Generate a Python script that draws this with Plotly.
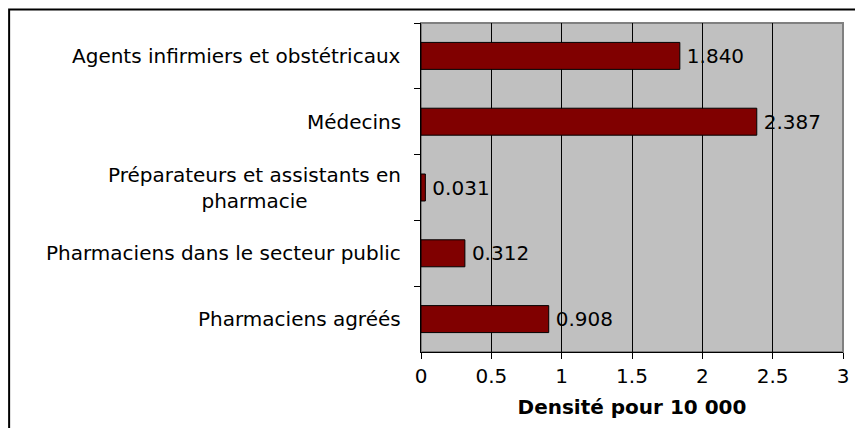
import plotly.graph_objects as go

categories = [
    "Agents infirmiers et obstétricaux",
    "Médecins",
    "Préparateurs et assistants en<br>pharmacie",
    "Pharmaciens dans le secteur public",
    "Pharmaciens agréés",
]
values = [1.840, 2.387, 0.031, 0.312, 0.908]
x_tick_vals = [0, 0.5, 1, 1.5, 2, 2.5, 3]
x_tick_text = ["0", "0.5", "1", "1.5", "2", "2.5", "3"]
x_title = "Densité pour 10 000"

FONT = "DejaVu Sans"

fig = go.Figure()
fig.add_trace(go.Bar(
    x=values,
    y=categories,
    orientation="h",
    marker=dict(color="#800000", line=dict(color="#000000", width=1)),
    text=["\u2009" + f"{v:.3f}" for v in values],
    textposition="outside",
    textfont=dict(family=FONT, size=20, color="#000000"),
    cliponaxis=False,
    width=0.41,
))

for c in categories:
    fig.add_annotation(
        x=0, xref="x", y=c, yref="y",
        text=c, showarrow=False,
        xanchor="right", yanchor="middle", align="center",
        xshift=-18,
        font=dict(family=FONT, size=20, color="#000000"),
    )

# outer frame
fig.add_shape(type="rect", xref="paper", yref="paper",
              x0=-0.976, x1=1.2, y0=-0.4, y1=1.041,
              line=dict(color="#000000", width=2), fillcolor="rgba(0,0,0,0)")
# plot area border (gray)
fig.add_shape(type="rect", xref="paper", yref="paper",
              x0=0, x1=1, y0=0, y1=1,
              line=dict(color="#808080", width=2), fillcolor="rgba(0,0,0,0)",
              layer="below")

fig.update_layout(
    width=855, height=420,
    margin=dict(l=413, r=20, t=15, b=76),
    paper_bgcolor="#FFFFFF",
    plot_bgcolor="#C0C0C0",
    showlegend=False,
    font=dict(family=FONT, size=20, color="#000000"),
    xaxis=dict(
        range=[0, 3],
        tickvals=x_tick_vals, ticktext=x_tick_text,
        showgrid=True, gridcolor="#000000", gridwidth=1,
        showline=True, linecolor="#000000", linewidth=1,
        ticks="outside", ticklen=6, tickcolor="#000000",
        tickfont=dict(family=FONT, size=20, color="#000000"),
        title=dict(text="<b>" + x_title + "</b>",
                   font=dict(family=FONT, size=20, color="#000000"),
                   standoff=12),
        zeroline=False,
        fixedrange=True,
    ),
    yaxis=dict(
        categoryorder="array", categoryarray=categories,
        autorange="reversed",
        showticklabels=False,
        showgrid=False,
        showline=True, linecolor="#000000", linewidth=1,
        ticks="outside", ticklen=6, tickcolor="#000000",
        tickson="boundaries",
        fixedrange=True,
    ),
)

fig.write_html("out.html")
